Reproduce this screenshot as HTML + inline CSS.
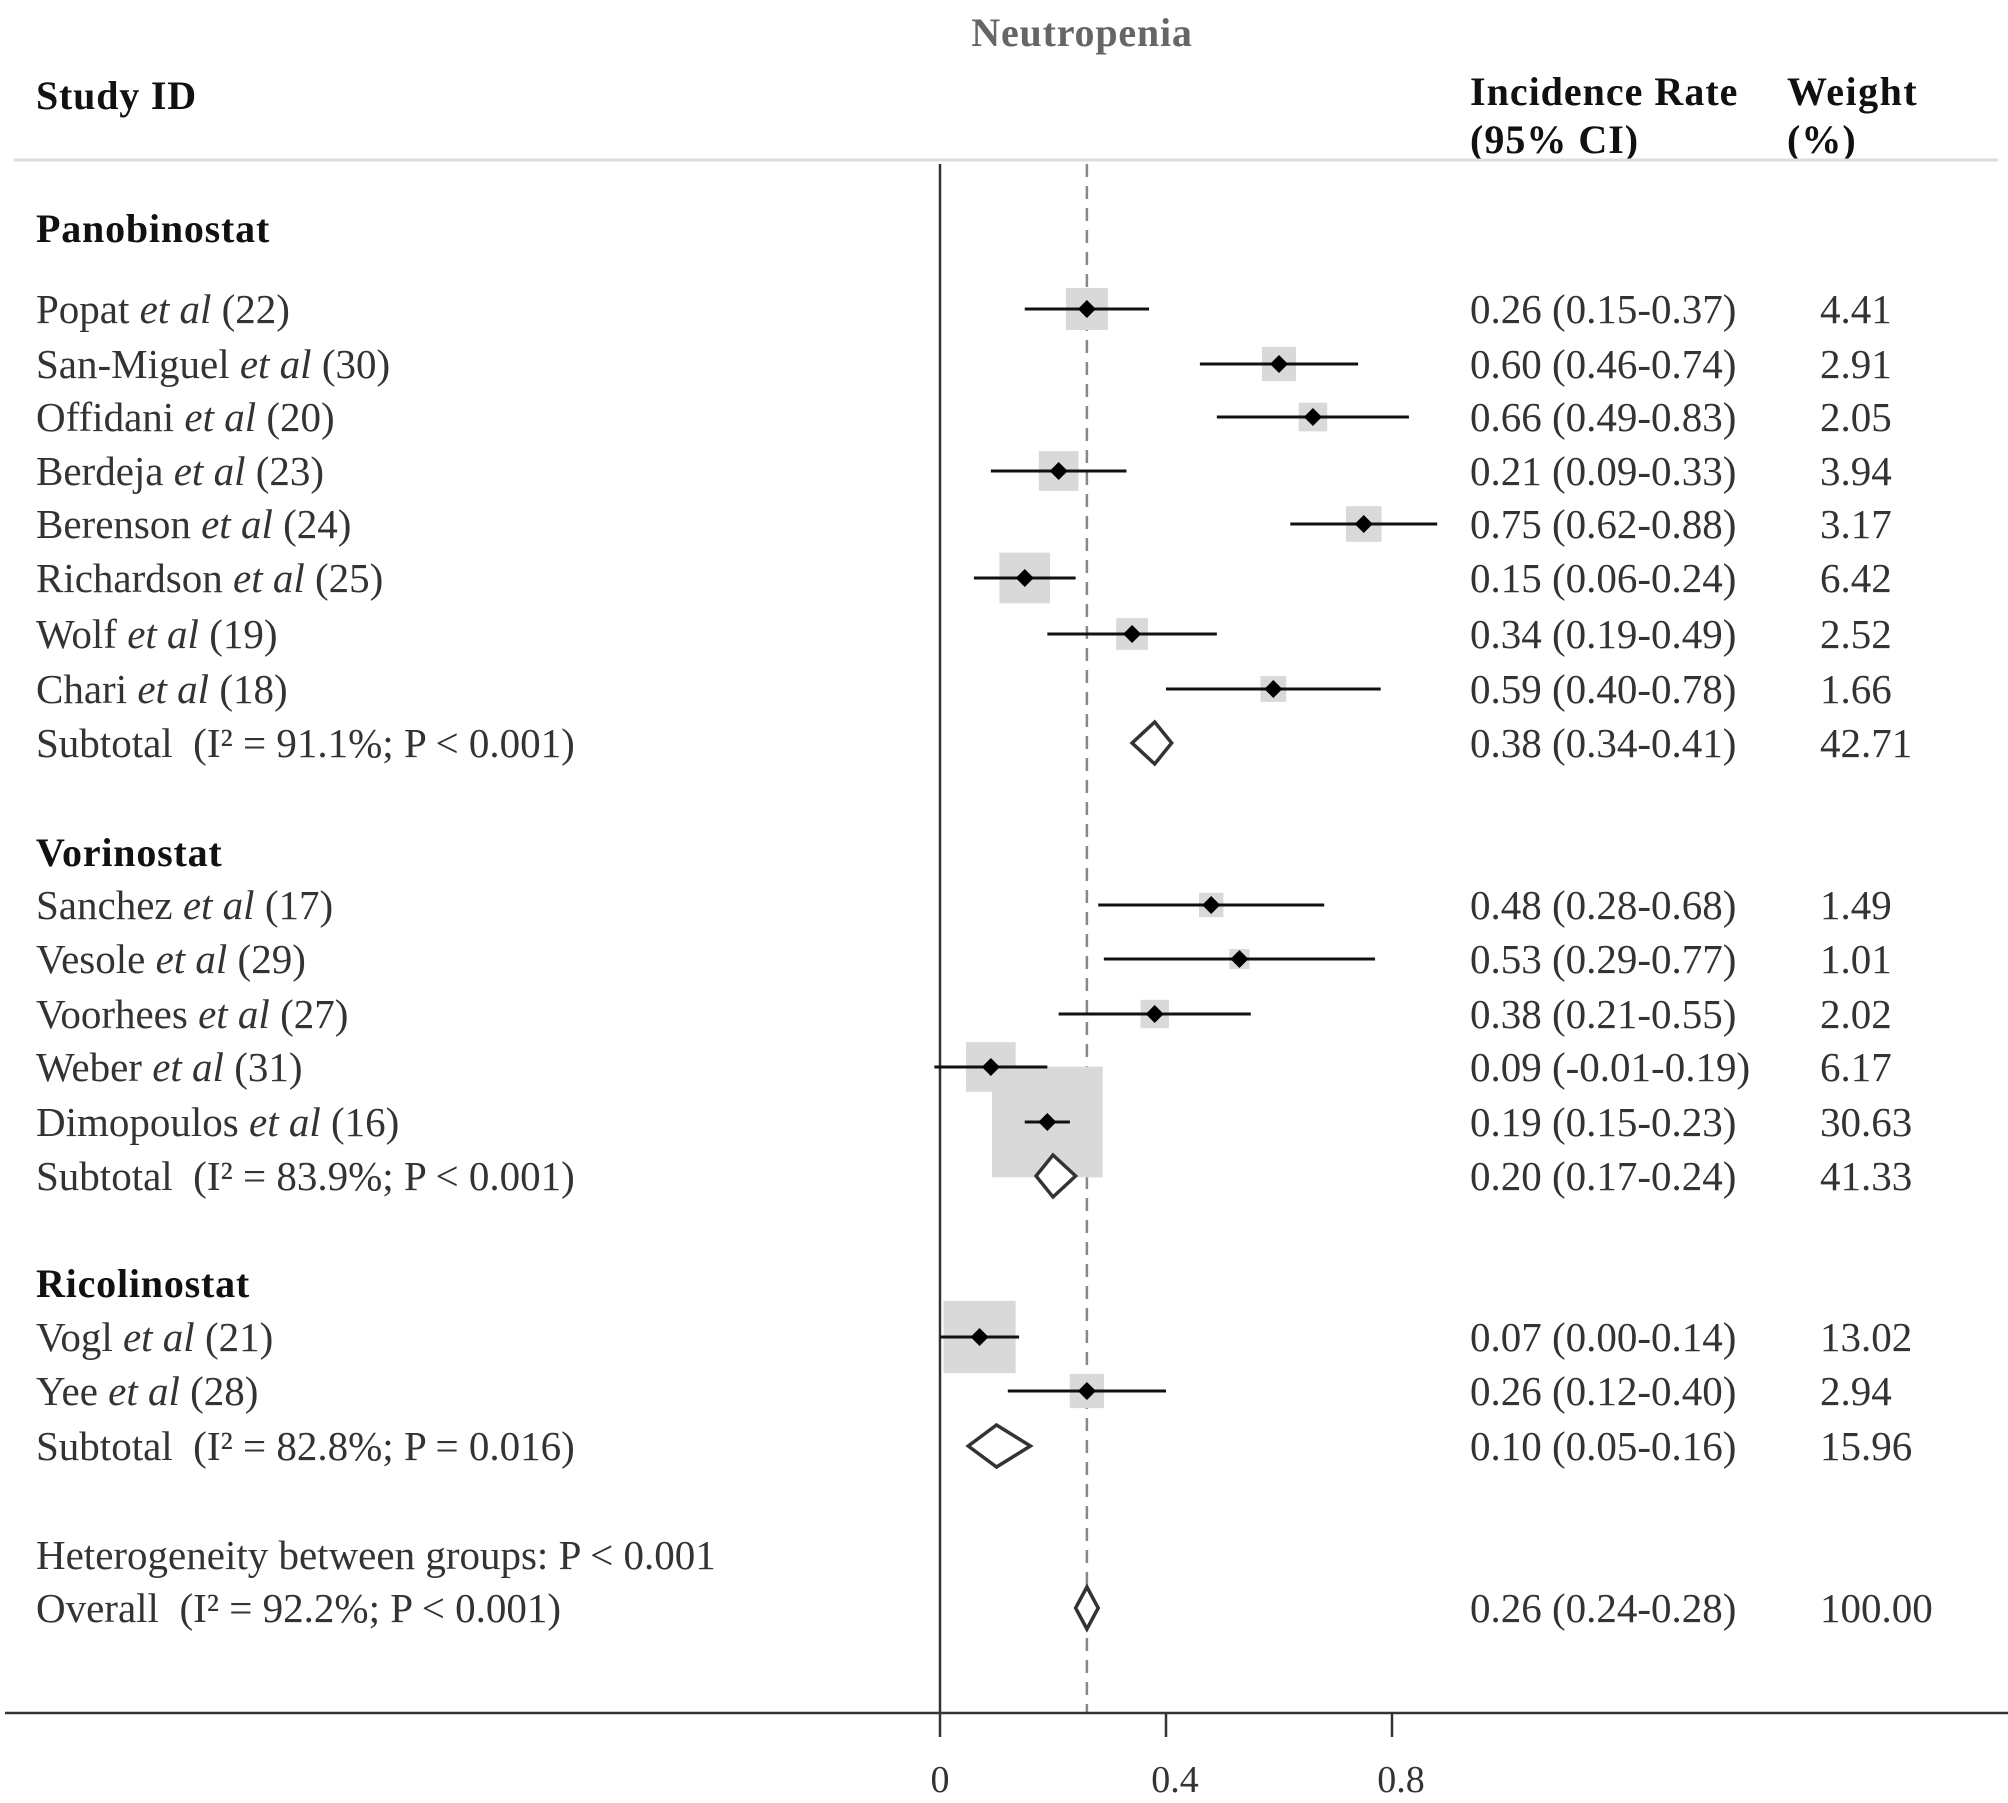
<!DOCTYPE html>
<html><head><meta charset="utf-8"><style>
html,body{margin:0;padding:0;background:#fff;}
svg{display:block;}
text{font-family:"Liberation Serif",serif;white-space:pre;}
</style></head><body>
<svg id="chart" width="2008" height="1803" viewBox="0 0 2008 1803" xmlns="http://www.w3.org/2000/svg">
<text x="1082" y="46" text-anchor="middle" font-size="40" font-weight="bold" fill="#666" letter-spacing="0.8">Neutropenia</text>
<text x="36" y="109" font-size="40" font-weight="bold" fill="#111" letter-spacing="0.8">Study ID</text>
<text x="1470" y="105" font-size="40" font-weight="bold" fill="#111" letter-spacing="1">Incidence Rate</text>
<text x="1470" y="153" font-size="40" font-weight="bold" fill="#111" letter-spacing="1">(95% CI)</text>
<text x="1787" y="105" font-size="40" font-weight="bold" fill="#111" letter-spacing="1.5">Weight</text>
<text x="1787" y="153" font-size="40" font-weight="bold" fill="#111" letter-spacing="1">(%)</text>
<line x1="14" y1="160" x2="1998" y2="160" stroke="#ddd" stroke-width="3"/>
<g id="marks"></g>
</svg>
<script>
const labels = ["Popat","San-Miguel","Offidani","Berdeja","Berenson","Richardson","Wolf","Chari","SUB1","Sanchez","Vesole","Voorhees","Weber","Dimopoulos","SUB2","Vogl","Yee","SUB3","OVERALL"];
const refs = ["22","30","20","23","24","25","19","18","","17","29","27","31","16","","21","28","",""];
const est = [0.26,0.60,0.66,0.21,0.75,0.15,0.34,0.59,0.38,0.48,0.53,0.38,0.09,0.19,0.20,0.07,0.26,0.10,0.26];
const lo  = [0.15,0.46,0.49,0.09,0.62,0.06,0.19,0.40,0.34,0.28,0.29,0.21,-0.01,0.15,0.17,0.00,0.12,0.05,0.24];
const hi  = [0.37,0.74,0.83,0.33,0.88,0.24,0.49,0.78,0.41,0.68,0.77,0.55,0.19,0.23,0.24,0.14,0.40,0.16,0.28];
const weights = [4.41,2.91,2.05,3.94,3.17,6.42,2.52,1.66,42.71,1.49,1.01,2.02,6.17,30.63,41.33,13.02,2.94,15.96,100.00];
const ciText = ["0.26 (0.15-0.37)","0.60 (0.46-0.74)","0.66 (0.49-0.83)","0.21 (0.09-0.33)","0.75 (0.62-0.88)","0.15 (0.06-0.24)","0.34 (0.19-0.49)","0.59 (0.40-0.78)","0.38 (0.34-0.41)","0.48 (0.28-0.68)","0.53 (0.29-0.77)","0.38 (0.21-0.55)","0.09 (-0.01-0.19)","0.19 (0.15-0.23)","0.20 (0.17-0.24)","0.07 (0.00-0.14)","0.26 (0.12-0.40)","0.10 (0.05-0.16)","0.26 (0.24-0.28)"];
const weightText = ["4.41","2.91","2.05","3.94","3.17","6.42","2.52","1.66","42.71","1.49","1.01","2.02","6.17","30.63","41.33","13.02","2.94","15.96","100.00"];
const subLabels = {SUB1:"Subtotal  (I² = 91.1%; P < 0.001)",SUB2:"Subtotal  (I² = 83.9%; P < 0.001)",SUB3:"Subtotal  (I² = 82.8%; P = 0.016)",OVERALL:"Overall  (I² = 92.2%; P < 0.001)"};
const rowY = [309,364,417,471,524,578,634,689,743,905,959,1014,1067,1122,1176,1337,1391,1446,1608];
const groups = [["Panobinostat",228],["Vorinostat",852],["Ricolinostat",1283]];
const overallEst = 0.26;
const xTicks = [0,0.4,0.8];
const xTickLabels = ["0","0.4","0.8"];

const NS="http://www.w3.org/2000/svg";
const g=document.getElementById('marks');
const X0=940, UNIT=565, TOP=164, AXY=1713;
function xs(v){return X0+v*UNIT;}
function mk(tag,attrs){const e=document.createElementNS(NS,tag);for(const k in attrs)e.setAttribute(k,attrs[k]);g.appendChild(e);return e;}

let l=mk('line',{x1:xs(overallEst),y1:TOP,x2:xs(overallEst),y2:AXY,stroke:'#888','stroke-width':2.5,'stroke-dasharray':'13,9'});


for(let i=0;i<labels.length;i++){
  if(labels[i].startsWith('SUB')||labels[i]==='OVERALL')continue;
  const s=20*Math.sqrt(weights[i]);
  const r=mk('rect',{x:xs(est[i])-s/2,y:rowY[i]-s/2,width:s,height:s,fill:'#d9d9d9'});
  
  
}
l=mk('line',{x1:X0,y1:TOP,x2:X0,y2:AXY,stroke:'#333','stroke-width':2.5});


l=mk('line',{x1:5,y1:AXY,x2:2008,y2:AXY,stroke:'#333','stroke-width':2.5});


xTicks.forEach((t,i)=>{
  const tk=mk('line',{x1:xs(t),y1:AXY,x2:xs(t),y2:AXY+24,stroke:'#333','stroke-width':2.5});
  
  
  const tl=mk('text',{x:xs(t)+(t===0?0:9),y:1792,'text-anchor':'middle','font-size':38,fill:'#333'});
  tl.textContent=xTickLabels[i];
  
  
});
groups.forEach(gr=>{
  const t=mk('text',{x:36,y:gr[1]+14,'font-size':40,'font-weight':'bold',fill:'#111','letter-spacing':0.8});
  t.textContent=gr[0];
  
  
});
const het=mk('text',{x:36,y:1569,'font-size':41,fill:'#333'});
het.textContent='Heterogeneity between groups: P < 0.001';



for(let i=0;i<labels.length;i++){
  const y=rowY[i], isSum=labels[i].startsWith('SUB')||labels[i]==='OVERALL';
  const t=mk('text',{x:36,y:y+14,'font-size':41,fill:'#333'});
  if(isSum){t.textContent=subLabels[labels[i]];}
  else{
    t.appendChild(document.createTextNode(labels[i]+' '));
    const it=document.createElementNS(NS,'tspan');it.setAttribute('font-style','italic');it.textContent='et al';t.appendChild(it);
    t.appendChild(document.createTextNode(' ('+refs[i]+')'));
  }
  
  
  const c=mk('text',{x:1470,y:y+14,'font-size':41,fill:'#333'});
  c.textContent=ciText[i];
  
  
  const w=mk('text',{x:1820,y:y+14,'font-size':41,fill:'#333'});
  w.textContent=weightText[i];
  
  
  if(isSum){
    const h=21;
    const d=mk('polygon',{points:`${xs(lo[i])},${y} ${xs(est[i])},${y-h} ${xs(hi[i])},${y} ${xs(est[i])},${y+h}`,fill:'#fff',stroke:'#333','stroke-width':3.5});
    
    
  } else {
    const ci=mk('line',{x1:xs(lo[i]),y1:y,x2:xs(hi[i]),y2:y,stroke:'#111','stroke-width':3});
    
    
    const x=xs(est[i]);
    const p=mk('polygon',{points:`${x-9},${y} ${x},${y-9} ${x+9},${y} ${x},${y+9}`,fill:'#000'});
    
    
  }
}
</script>
</body></html>
